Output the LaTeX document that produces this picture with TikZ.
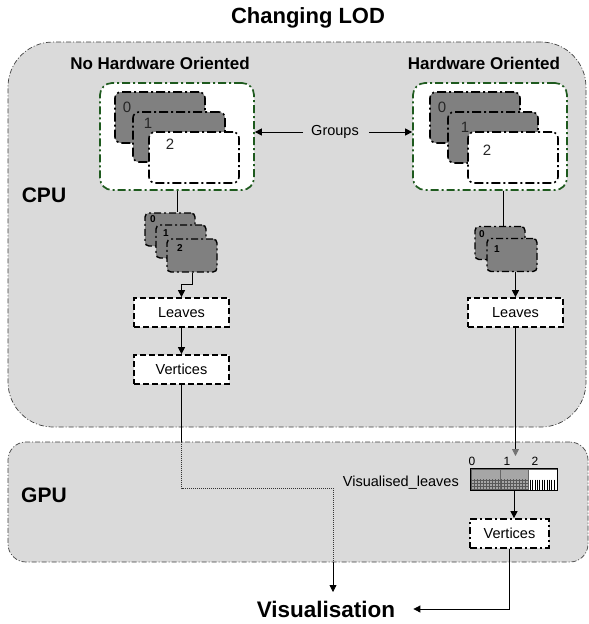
\documentclass[tikz,border=0pt]{standalone}
\usepackage{fontspec}
\setmainfont{Liberation Sans}
\usetikzlibrary{arrows.meta,patterns}
\definecolor{regionfill}{HTML}{DADADA}
\definecolor{grpgreen}{HTML}{1E5A1E}
\definecolor{shapegray}{HTML}{808080}
\begin{document}
\begin{tikzpicture}[x=1pt,y=-1pt,
  region/.style={draw=black!75, line width=0.7pt, dash pattern=on 5pt off 2pt on 1pt off 2pt, fill=regionfill, inner sep=0pt},
  grpbox/.style={draw=grpgreen, fill=white, line width=1.7pt, dash pattern=on 8pt off 3pt on 2pt off 3pt, rounded corners=12pt, minimum width=154pt, minimum height=107pt, inner sep=0pt},
  lodshape/.style={draw=black, fill=shapegray, line width=1.6pt, dash pattern=on 9pt off 3pt on 2pt off 3pt, rounded corners=6pt, minimum width=90pt, minimum height=51pt, inner sep=0pt},
  lodwhite/.style={lodshape, fill=white},
  leafshape/.style={lodshape, minimum width=50pt, minimum height=33pt, rounded corners=4pt, line width=1.4pt, dash pattern=on 7pt off 3pt on 2pt off 3pt},
  dashbox/.style={draw=black, fill=white, line width=1.7pt, dash pattern=on 6pt off 3pt, minimum width=95pt, minimum height=29pt, inner sep=0pt, font=\fontsize{14.5}{16}\selectfont},
  dotbox/.style={dashbox, dash pattern=on 7pt off 3pt on 2pt off 3pt, minimum width=79pt},
  lbl/.style={font=\fontsize{14.5}{16}\selectfont, inner sep=0pt},
  digit/.style={font=\fontsize{15}{16}\selectfont, inner sep=0pt, text=black!85},
  sdigit/.style={font=\bfseries\fontsize{10}{11}\selectfont, inner sep=0pt},
  bdigit/.style={font=\fontsize{12}{13}\selectfont, inner sep=0pt},
  head/.style={font=\bfseries\fontsize{17}{19}\selectfont, inner sep=0pt},
  big/.style={font=\bfseries\fontsize{21}{23}\selectfont, inner sep=0pt},
  conn/.style={line width=0.8pt, black},
  arr/.style={conn, -{Triangle[length=7pt,width=7pt]}},
  dotl/.style={line width=0.8pt, black!80, dash pattern=on 1pt off 1pt},
  cell/.style={draw=black!60, line width=0.4pt, minimum height=21pt, inner sep=0pt},
]
\useasboundingbox (0,0) rectangle (589,624);

% title
\node[font=\bfseries\fontsize{22}{24}\selectfont, inner sep=0pt] (title) at (308,18) {Changing LOD};

% regions
\node[region, rounded corners=45pt, minimum width=578pt, minimum height=385pt] (cpu) at (297,234.5) {};
\node[region, rounded corners=18pt, minimum width=580pt, minimum height=120pt] (gpu) at (298,502) {};

\node[head] (nho) at (160,63) {No Hardware Oriented};
\node[head] (ho) at (484,63) {Hardware Oriented};
\node[big] (cpul) at (44,195) {CPU};
\node[big] (gpul) at (44,495) {GPU};

% left group
\node[grpbox] (lgrp) at (177,136.5) {};
\node[lodshape] (l0) at (160,117.5) {};
\node[lodshape, minimum width=92pt, minimum height=50pt] (l1) at (179,137) {};
\node[lodwhite] (l2) at (194,157.5) {};
\node[digit] at (127,107) {0};
\node[digit] at (148,123) {1};
\node[digit] at (170,144) {2};

% right group
\node[grpbox] (rgrp) at (490,136.5) {};
\node[lodshape] (r0) at (475,117.5) {};
\node[lodshape] (r1) at (493,137.5) {};
\node[lodwhite] (r2) at (513,157.5) {};
\node[digit] at (442,107) {0};
\node[digit] at (465,127) {1};
\node[digit] at (487,150) {2};

% groups label
\node[lbl] (groups) at (335,132) {Groups};
\draw[arr] ([xshift=-8pt]groups.west) -- (groups.west -| lgrp.east);
\draw[arr] ([xshift=10pt]groups.east) -- (groups.east -| rgrp.west);

% left stack
\node[leafshape] (ls0) at (170,229.5) {};
\node[leafshape] (ls1) at (181,241.5) {};
\node[leafshape] (ls2) at (192,255.5) {};
\node[sdigit] at (153,219) {0};
\node[sdigit] at (166,233) {1};
\node[sdigit] at (180,248) {2};

% right stack
\node[leafshape] (rs0) at (500,243) {};
\node[leafshape] (rs1) at (512,255) {};
\node[sdigit] at (482,234) {0};
\node[sdigit] at (497,249) {1};

% boxes
\node[dashbox] (lleaves) at (181.5,312.5) {Leaves};
\node[dashbox] (lvert) at (181.5,369.5) {Vertices};
\node[dashbox] (rleaves) at (515.5,312.5) {Leaves};
\node[dotbox] (gvert) at (509.5,533.5) {Vertices};

% bar
\node[cell, minimum width=29pt, fill=black!35] (cell0) at (485.5,479.5) {};
\node[cell, minimum width=28pt, fill=black!35] (cell1) at (514,479.5) {};
\node[cell, minimum width=29pt, fill=white] (cell2) at (542.5,479.5) {};
\fill[pattern=grid, pattern color=black!65] (cell0.west) rectangle (cell1.south east);
\foreach \i in {0,...,10} \draw[line width=0.6pt] (530+2.4*\i,479.5) -- (530+2.4*\i,490);
\draw[line width=0.8pt] (cell0.north west) rectangle (cell2.south east);
\node[bdigit] at (472,461) {0};
\node[bdigit] at (507,461) {1};
\node[bdigit] at (535,461) {2};
\node[lbl, anchor=east] (vleaves) at (459,483) {Visualised\_leaves};

% visualisation
\node[font=\bfseries\fontsize{22.5}{24}\selectfont, inner sep=0pt] (vis) at (326,609) {Visualisation};
\coordinate (visin) at (333,592);
\coordinate (rin) at (515.5,456);

% connectors left
\draw[conn] (lgrp.south) -- (lgrp.south |- ls0.north);
\draw[arr] (ls2.south) -- ++(0,12) -| (lleaves.north);
\draw[arr] (lleaves.south) -- (lvert.north);
\draw[conn] (lvert.south) -- (lvert.south |- gpu.north);
\draw[dotl] (lvert.south |- gpu.north) -- (lvert.south |- 0,488) -- (visin |- 0,488) -- (visin |- gpu.south);
\draw[arr] (visin |- gpu.south) -- (visin);

% connectors right
\draw[conn] ([xshift=3pt]rs0.north) -- ([xshift=3pt]rs0.north |- rgrp.south);
\draw[arr] (rleaves.north |- rs1.south) -- (rleaves.north);
\draw[conn, -{Triangle[length=7pt,width=7pt,color=black!55]}] (rleaves.south) -- (rin);
\draw[arr] (cell1.south) -- (cell1.south |- gvert.north);
\draw[arr] (gvert.south) |- ([xshift=18pt]vis.east);
\end{tikzpicture}
\end{document}
